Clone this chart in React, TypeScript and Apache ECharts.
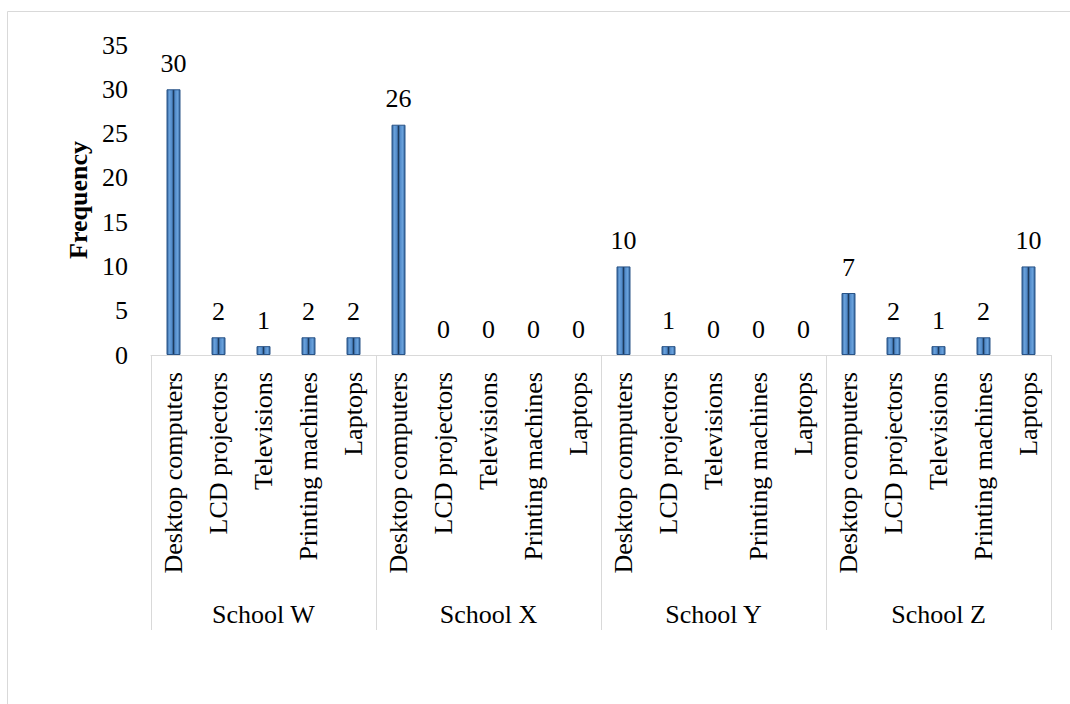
import React, { useEffect, useRef } from "react";
import * as echarts from "echarts";

const items = ["Desktop computers", "LCD projectors", "Televisions", "Printing machines", "Laptops"];
const schools = ["School W", "School X", "School Y", "School Z"];
const schoolW = [30, 2, 1, 2, 2];
const schoolX = [26, 0, 0, 0, 0];
const schoolY = [10, 1, 0, 0, 0];
const schoolZ = [7, 2, 1, 2, 10];
const yTicks = { min: 0, max: 35, interval: 5 };

const FONT = "'Liberation Serif', 'Times New Roman', serif";

export default function App() {
  const ref = useRef<HTMLDivElement>(null);
  useEffect(() => {
    if (!ref.current) return;
    const chart = echarts.init(ref.current, null, { renderer: "svg" });
    const categories: string[] = [];
    schools.forEach(() => items.forEach((it) => categories.push(it)));
    const values = [...schoolW, ...schoolX, ...schoolY, ...schoolZ];
    const barColor = new echarts.graphic.LinearGradient(0, 0, 1, 0, [
      { offset: 0, color: "#2f6099" },
      { offset: 0.18, color: "#6aa2dc" },
      { offset: 0.4, color: "#4f88c8" },
      { offset: 0.47, color: "#1d3b5e" },
      { offset: 0.53, color: "#1d3b5e" },
      { offset: 0.6, color: "#4f88c8" },
      { offset: 0.82, color: "#6aa2dc" },
      { offset: 1, color: "#2f6099" },
    ]);
    const seriesData = values.map((v) =>
      v === 0
        ? { value: v, itemStyle: { borderWidth: 0, color: "rgba(0,0,0,0)" } }
        : { value: v }
    );
    chart.setOption({
      animation: false,
      graphic: [
        {
          type: "rect",
          shape: { x: 7.5, y: 11.5, width: 1200, height: 900 },
          style: { fill: "none", stroke: "#d9d9d9", lineWidth: 1 },
          silent: true,
        },
      ],
      grid: { left: 151, right: 19, top: 45, bottom: 349 },
      xAxis: [
        {
          type: "category",
          data: categories,
          position: "bottom",
          axisLine: { show: true, lineStyle: { color: "#d9d9d9", width: 1 } },
          axisTick: { show: false },
          axisLabel: {
            interval: 0,
            rotate: 90,
            margin: 17,
            color: "#000",
            fontSize: 26,
            fontFamily: FONT,
          },
        },
        {
          type: "category",
          data: schools,
          position: "bottom",
          offset: 0,
          axisLine: { show: false },
          axisTick: { show: true, length: 275, lineStyle: { color: "#d9d9d9", width: 1 } },
          axisLabel: {
            interval: 0,
            margin: 246,
            color: "#000",
            fontSize: 26,
            fontFamily: FONT,
          },
        },
      ],
      yAxis: {
        type: "value",
        min: yTicks.min,
        max: yTicks.max,
        interval: yTicks.interval,
        name: "Frequency",
        nameLocation: "middle",
        nameRotate: 90,
        nameGap: 52,
        nameTextStyle: { color: "#000", fontSize: 26, fontWeight: "bold", fontFamily: FONT },
        axisLine: { show: false },
        axisTick: { show: false },
        splitLine: { show: false },
        axisLabel: { margin: 23, color: "#000", fontSize: 26, fontFamily: FONT },
      },
      series: [
        {
          type: "bar",
          xAxisIndex: 0,
          data: seriesData,
          barWidth: 14,
          itemStyle: { color: barColor, borderColor: "#2a5487", borderWidth: 1 },
          label: {
            show: true,
            position: "top",
            distance: 13,
            color: "#000",
            fontSize: 26,
            fontFamily: FONT,
          },
        },
      ],
    });
    return () => chart.dispose();
  }, []);
  return (
    <div
      ref={ref}
      style={{ position: "fixed", left: 0, top: 0, width: 1070, height: 704, background: "#fff" }}
    />
  );
}
